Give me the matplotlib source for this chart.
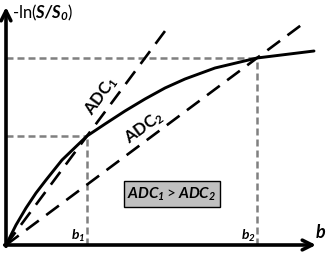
import matplotlib
matplotlib.use("Agg")
import matplotlib.pyplot as plt

# Curve: -ln(S/S0) versus b (arbitrary units)
b_vals = [0, 10, 20, 30, 40, 56, 81, 99, 119, 139, 159, 179, 209, 251, 308]
signal_vals = [0, 20, 37, 52, 65, 85, 109, 121, 134, 146, 157, 166, 177, 187, 194]

# Reference b-values and the signal there
b1, b2 = 81, 251
s1, s2 = 109, 187

# Extent of the ADC lines (b at their ends)
adc1_end_b = 164
adc2_end_b = 296

# Tick labels / text
x_label = "b"
y_label = r"-ln($\mathbfit{S/S}_{\mathbfit{0}}$)"
adc1_label = r"$\mathbf{ADC}_{\mathbf{1}}$"
adc2_label = r"$\mathbf{ADC}_{\mathbf{2}}$"
box_label = r"$\mathbfit{ADC}_{\mathbfit{1}}>\mathbfit{ADC}_{\mathbfit{2}}$"
b1_label = r"$\mathbfit{b}_{\mathbfit{1}}$"
b2_label = r"$\mathbfit{b}_{\mathbfit{2}}$"

plt.rcParams['font.family'] = ['Lato', 'DejaVu Sans']
plt.rcParams['mathtext.fontset'] = 'custom'
plt.rcParams['mathtext.rm'] = 'Lato'
plt.rcParams['mathtext.it'] = 'Lato:italic'
plt.rcParams['mathtext.bf'] = 'Lato:bold'
plt.rcParams['mathtext.bfit'] = 'Lato:bold:italic'

fig = plt.figure(figsize=(3.26, 2.54), dpi=100)
ax = fig.add_axes([0, 0, 1, 1])
ax.set_xlim(-6, 320)
ax.set_ylim(-9, 245)
ax.axis('off')

gray = '#808080'
dash_g = (0, (2.8, 1.6))
# helper dashed lines
ax.plot([0, b1], [s1, s1], color=gray, lw=1.8, ls=dash_g)
ax.plot([b1, b1], [0, s1], color=gray, lw=1.8, ls=dash_g)
ax.plot([0, b2], [s2, s2], color=gray, lw=1.8, ls=dash_g)
ax.plot([b2, b2], [0, s2], color=gray, lw=1.8, ls=dash_g)

# ADC lines
k1 = s1 / b1
k2 = s2 / b2
ax.plot([0, adc1_end_b], [0, k1 * adc1_end_b], color='black', lw=1.9, ls=(0, (6, 3.5)))
ax.plot([0, adc2_end_b], [0, k2 * adc2_end_b], color='black', lw=1.9, ls=(0, (6, 3.5)))

# curve
ax.plot(b_vals, signal_vals, color='black', lw=2.1, solid_capstyle='round',
        solid_joinstyle='round')

# axes with arrows
arrow = dict(arrowstyle='->,head_length=0.7,head_width=0.35', lw=2.6, color='black',
             shrinkA=0, shrinkB=0)
ax.annotate('', xy=(310, 0), xytext=(-1.3, 0), arrowprops=arrow)
ax.annotate('', xy=(0, 238), xytext=(0, -1.3), arrowprops=arrow)

ax.text(6, 232, y_label, fontsize=12, ha='left', va='center')
ax.text(315, 12, x_label, fontsize=13, ha='center', va='center',
        fontweight='bold', fontstyle='italic')
ax.text(72, 9, b1_label, fontsize=10, ha='center', va='center')
ax.text(242, 9, b2_label, fontsize=10, ha='center', va='center')

ax.text(95, 149, adc1_label, fontsize=12, ha='center', va='center',
        rotation=54, rotation_mode='anchor')
ax.text(138, 117, adc2_label, fontsize=12, ha='center', va='center',
        rotation=36, rotation_mode='anchor')

ax.text(166, 51, box_label, fontsize=11, ha='center', va='center',
        bbox=dict(boxstyle='square,pad=0.25', facecolor='#c0c0c0', edgecolor='black', lw=1.0))

fig.savefig('out.png', dpi=100)
